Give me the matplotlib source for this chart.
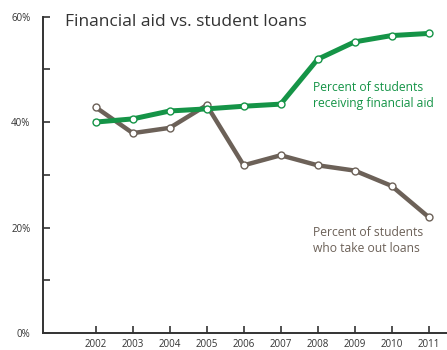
import matplotlib
matplotlib.use("Agg")
import matplotlib.pyplot as plt

years = [2002, 2003, 2004, 2005, 2006, 2007, 2008, 2009, 2010, 2011]
aid = [40.0, 40.6, 42.1, 42.5, 43.0, 43.4, 51.9, 55.2, 56.4, 56.8]
loans = [42.8, 37.9, 38.9, 43.2, 31.8, 33.7, 31.8, 30.8, 27.9, 22.0]
ytick_vals = [0, 10, 20, 30, 40, 50, 60]
ytick_labels = ["0%", "", "20%", "", "40%", "", "60%"]

GREEN = "#159447"
GRAY = "#6c6158"

plt.rcParams['font.family'] = ['Open Sans', 'DejaVu Sans']

fig = plt.figure(figsize=(4.47, 3.5), dpi=100)
ax = fig.add_axes([0.096, 0.0486, 0.904, 0.904])

ax.plot(years, loans, color=GRAY, lw=3.2, marker='o', ms=5, mfc='white',
        mec=GRAY, mew=1.0, zorder=3, solid_joinstyle='miter')
ax.plot(years, aid, color=GREEN, lw=3.6, marker='o', ms=5, mfc='white',
        mec=GREEN, mew=1.0, zorder=4, solid_joinstyle='miter')

ax.set_xlim(2000.57, 2011.5)
ax.set_ylim(0, 60)
ax.set_xticks(years)
ax.set_xticklabels([str(y) for y in years], fontsize=7, color="#333333")
ax.set_yticks(ytick_vals)
ax.set_yticklabels(ytick_labels, fontsize=7, color="#333333")
ax.tick_params(axis='both', direction='in', length=5, width=1.2, color="#333333")
ax.tick_params(axis='x', pad=4)
ax.tick_params(axis='y', pad=9)

for s in ['top', 'right']:
    ax.spines[s].set_visible(False)
for s in ['left', 'bottom']:
    ax.spines[s].set_linewidth(1.4)
    ax.spines[s].set_color("#333333")

fig.text(65/447, 1-22/350, "Financial aid vs. student loans", fontsize=12.5,
         color="#333333", va='center', ha='left')
fig.text(313/447, 1-95.5/350, "Percent of students\nreceiving financial aid",
         fontsize=8.7, color=GREEN, va='center', ha='left', linespacing=1.25)
fig.text(313/447, 1-240.5/350, "Percent of students\nwho take out loans",
         fontsize=8.7, color=GRAY, va='center', ha='left', linespacing=1.25)

fig.savefig("out.png", dpi=100)
